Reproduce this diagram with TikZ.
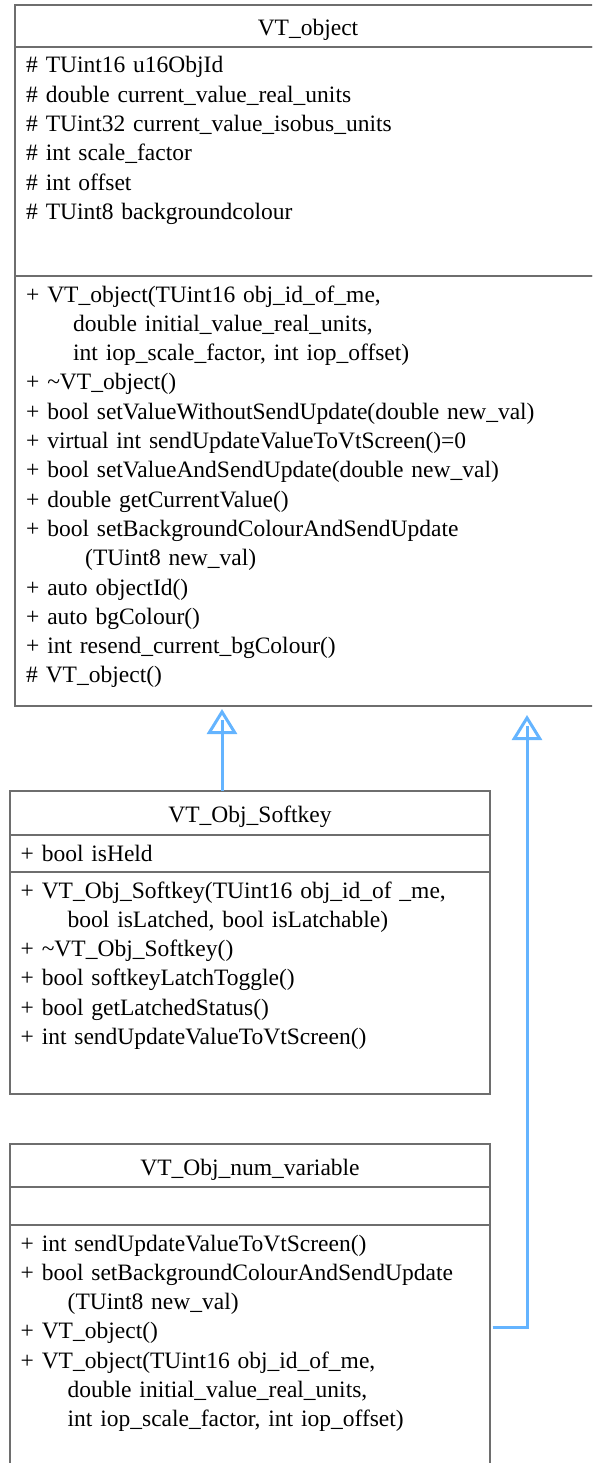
\documentclass[tikz,border=0pt]{standalone}
\usepackage{fontspec}
\setmainfont{Liberation Serif}
\usetikzlibrary{positioning,arrows.meta}

\definecolor{boxgray}{RGB}{110,110,110}
\definecolor{inhblue}{RGB}{100,180,255}
\newcommand{\umlfont}{\fontsize{23.5}{29.3}\selectfont}
\newcommand{\ind}{\hspace*{47pt}}

\tikzset{
  part/.style={draw=boxgray, line width=2pt, inner sep=0pt, outer sep=0pt, font=\umlfont},
  title/.style={part, text height=19pt, text depth=0pt},
  members/.style={anchor=base west, inner sep=0pt, align=left, text width=560pt, font=\umlfont},
  inherit/.style={draw=inhblue, line width=3pt, -{Triangle[open, length=25pt, width=30pt]},
    shorten >=#1, postaction={draw, arrows=-, shorten >=#1+11pt}},
}

\begin{document}
\begin{tikzpicture}[x=1pt,y=1pt]
\useasboundingbox (0,0) rectangle (592,-1463);
\clip (0,0) rectangle (592,-1463);
% base class
\node[title, anchor=north west, minimum width=586, minimum height=42] (obj) at (15,-5) {VT\_object};
\node[part, minimum width=586, minimum height=229, below=0pt of obj] (objattr) {};
\node[part, minimum width=586, minimum height=430, below=0pt of objattr] (objops) {};
\node[members] (objattrtxt) at ([xshift=11pt,yshift=-26pt]objattr.north west)
  {\# TUint16 u16ObjId\\
   \# double current\_value\_real\_units\\
   \# TUint32 current\_value\_isobus\_units\\
   \# int scale\_factor\\
   \# int offset\\
   \# TUint8 backgroundcolour};
\node[members] (objopstxt) at ([xshift=11pt,yshift=-26pt]objops.north west)
  {+ VT\_object(TUint16 obj\_id\_of\_me,\\
   \ind double initial\_value\_real\_units,\\
   \ind int iop\_scale\_factor, int iop\_offset)\\
   + \textasciitilde VT\_object()\\
   + bool setValueWithoutSendUpdate(double new\_val)\\
   + virtual int sendUpdateValueToVtScreen()=0\\
   + bool setValueAndSendUpdate(double new\_val)\\
   + double getCurrentValue()\\
   + bool setBackgroundColourAndSendUpdate\\
   \hspace*{59pt}(TUint8 new\_val)\\
   + auto objectId()\\
   + auto bgColour()\\
   + int resend\_current\_bgColour()\\
   \# VT\_object()};

% softkey
\node[title, anchor=north west, minimum width=480, minimum height=44] (soft) at (10,-791) {VT\_Obj\_Softkey};
\node[part, minimum width=480, minimum height=37, below=0pt of soft] (softattr) {};
\node[part, minimum width=480, minimum height=222, below=0pt of softattr] (softops) {};
\node[members] (softattrtxt) at ([xshift=10.5pt,yshift=-26pt]softattr.north west)
  {+ bool isHeld};
\node[members] (softopstxt) at ([xshift=10.5pt,yshift=-26pt]softops.north west)
  {+ VT\_Obj\_Softkey(TUint16 obj\_id\_of \_me,\\
   \ind bool isLatched, bool isLatchable)\\
   + \textasciitilde VT\_Obj\_Softkey()\\
   + bool softkeyLatchToggle()\\
   + bool getLatchedStatus()\\
   + int sendUpdateValueToVtScreen()};

% numeric variable
\node[title, anchor=north west, minimum width=480, minimum height=43] (num) at (10,-1144) {VT\_Obj\_num\_variable};
\node[part, minimum width=480, minimum height=38, below=0pt of num] (numattr) {};
\node[part, minimum width=480, minimum height=255, below=0pt of numattr] (numops) {};
\node[members] (numopstxt) at ([xshift=10.5pt,yshift=-26pt]numops.north west)
  {+ int sendUpdateValueToVtScreen()\\
   + bool setBackgroundColourAndSendUpdate\\
   \ind (TUint8 new\_val)\\
   + VT\_object()\\
   + VT\_object(TUint16 obj\_id\_of\_me,\\
   \ind double initial\_value\_real\_units,\\
   \ind int iop\_scale\_factor, int iop\_offset)};

% generalisation arrows
\coordinate (bend) at ([xshift=37pt,yshift=-102pt]numops.north east);
\draw[inherit=3pt] ([xshift=212pt]soft.north west) -- ([xshift=212pt]soft.north west |- objops.south);
\draw[inherit=9pt, shorten <=2.5pt] ([yshift=-102pt]numops.north east) -- (bend) -- (bend |- objops.south);
\end{tikzpicture}
\end{document}
